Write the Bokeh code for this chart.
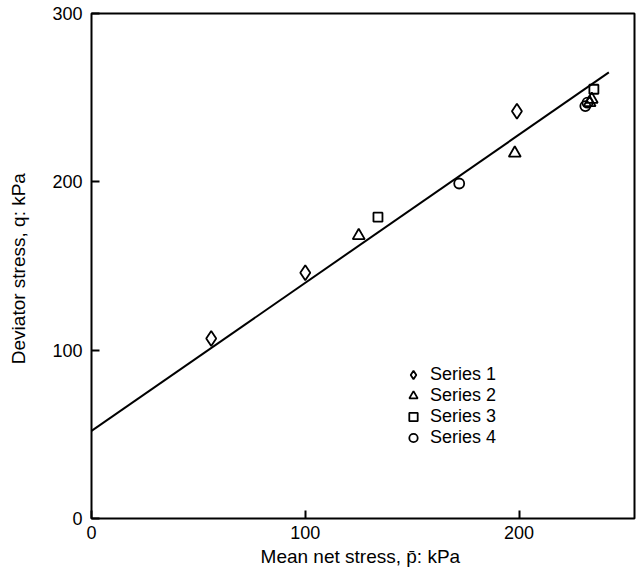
from bokeh.plotting import figure
from bokeh.models import Legend, LegendItem, FixedTicker, Range1d
from bokeh.embed import file_html
from bokeh.resources import INLINE

# Data
s1_x = [56, 100, 199]
s1_y = [107, 146, 242]
s2_x = [125, 198, 234, 233]
s2_y = [168, 217, 249, 247]
s3_x = [134, 235]
s3_y = [179, 255]
s4_x = [172, 231, 232]
s4_y = [199, 245, 247]
fit_x = [0, 242]
fit_y = [52, 265]

x_ticks = [0, 100, 200]
y_ticks = [0, 100, 200, 300]

FONT = "Liberation Sans"

p = figure(width=636, height=572, output_backend="svg", toolbar_location=None,
           x_range=Range1d(0, 254), y_range=Range1d(0, 300),
           min_border_left=91, min_border_right=2, min_border_top=13, min_border_bottom=54)

p.grid.visible = False
p.outline_line_color = "black"
p.outline_line_width = 2
p.background_fill_color = "white"
p.border_fill_color = "white"

for ax in (p.xaxis[0], p.yaxis[0]):
    ax.axis_line_color = None
    ax.major_tick_in = 8
    ax.major_tick_out = 0
    ax.major_tick_line_color = "black"
    ax.major_tick_line_width = 2
    ax.minor_tick_line_color = None
    ax.major_label_text_font = FONT
    ax.major_label_text_font_size = "18px"
    ax.major_label_text_color = "black"
    ax.axis_label_text_font = FONT
    ax.axis_label_text_font_size = "19px"
    ax.axis_label_text_font_style = "normal"
    ax.axis_label_text_color = "black"

p.xaxis.ticker = FixedTicker(ticks=x_ticks)
p.yaxis.ticker = FixedTicker(ticks=y_ticks)
p.xaxis.major_label_standoff = 7
p.yaxis.major_label_standoff = 9
p.xaxis.axis_label = "Mean net stress,  p\u0304: kPa"
p.yaxis.axis_label = "Deviator stress,  q: kPa"
p.xaxis.axis_label_standoff = 4
p.yaxis.axis_label_standoff = 20

p.line(fit_x, fit_y, line_color="black", line_width=2)

r1 = p.scatter(s1_x, s1_y, marker="diamond", size=15, fill_color=None, line_color="black", line_width=1.8)
r2 = p.scatter(s2_x, s2_y, marker="triangle", size=12, fill_color=None, line_color="black", line_width=1.8)
r3 = p.scatter(s3_x, s3_y, marker="square", size=9, fill_color=None, line_color="black", line_width=1.8)
r4 = p.scatter(s4_x, s4_y, marker="circle", size=10, fill_color=None, line_color="black", line_width=1.8)

legend = Legend(items=[LegendItem(label="Series 1", renderers=[r1]),
                       LegendItem(label="Series 2", renderers=[r2]),
                       LegendItem(label="Series 3", renderers=[r3]),
                       LegendItem(label="Series 4", renderers=[r4])],
                location=(310, 70), border_line_color=None, background_fill_alpha=0,
                label_text_font=FONT, label_text_font_size="18px", label_text_color="black",
                spacing=0, glyph_width=24, glyph_height=21, label_standoff=5,
                padding=0, margin=0, label_height=20)
p.add_layout(legend, "center")

open("out.html", "w").write(file_html(p, INLINE))
